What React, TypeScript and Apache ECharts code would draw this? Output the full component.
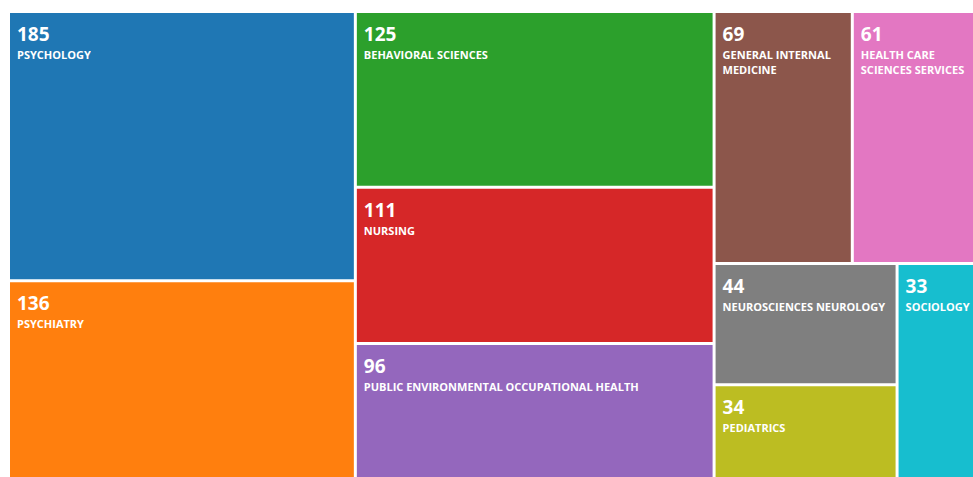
import React, { useEffect, useRef } from "react";
import * as echarts from "echarts";

const categories = [
  "PSYCHOLOGY",
  "PSYCHIATRY",
  "BEHAVIORAL SCIENCES",
  "NURSING",
  "PUBLIC ENVIRONMENTAL OCCUPATIONAL HEALTH",
  "GENERAL INTERNAL MEDICINE",
  "HEALTH CARE SCIENCES SERVICES",
  "NEUROSCIENCES NEUROLOGY",
  "PEDIATRICS",
  "SOCIOLOGY",
];
const counts = [185, 136, 125, 111, 96, 69, 61, 44, 34, 33];
const colors = [
  "#1f77b4",
  "#ff7f0e",
  "#2ca02c",
  "#d62728",
  "#9467bd",
  "#8c564b",
  "#e377c2",
  "#7f7f7f",
  "#bcbd22",
  "#17becf",
];

export default function App() {
  const ref = useRef<HTMLDivElement>(null);
  useEffect(() => {
    if (!ref.current) return;
    const chart = echarts.init(ref.current, undefined, { renderer: "svg" });
    const data = categories.map((name, i) => ({
      name,
      value: counts[i],
      itemStyle: { color: colors[i] },
    }));
    const NL = String.fromCharCode(10);
    chart.setOption({
      animation: false,
      backgroundColor: "#ffffff",
      series: [
        {
          type: "treemap",
          left: 10,
          top: 13,
          width: 963,
          height: 464,
          roam: false,
          nodeClick: false,
          squareRatio: 1.75,
          breadcrumb: { show: false },
          levels: [
            { itemStyle: { borderWidth: 0, gapWidth: 3, borderColor: "#fff" } },
            { itemStyle: { borderWidth: 0 } },
          ],
          label: {
            show: true,
            position: "insideTopLeft",
            padding: [8, 2, 6, 7],
            overflow: "break",
            fontFamily: "Open Sans",
            color: "#fff",
            formatter: (p: any) => "{v|" + p.value + "}{n|" + NL + p.name + "}",
            rich: {
              v: {
                fontSize: 19,
                fontWeight: "bold",
                lineHeight: 26,
                color: "#fff",
                fontFamily: "Open Sans",
              },
              n: {
                fontSize: 11,
                fontWeight: "bold",
                lineHeight: 15,
                color: "#fff",
                fontFamily: "Open Sans",
              },
            },
          },
          data,
        },
      ],
    });
    return () => chart.dispose();
  }, []);
  return (
    <div
      ref={ref}
      style={{ position: "fixed", left: 0, top: 0, width: 973, height: 477 }}
    />
  );
}
